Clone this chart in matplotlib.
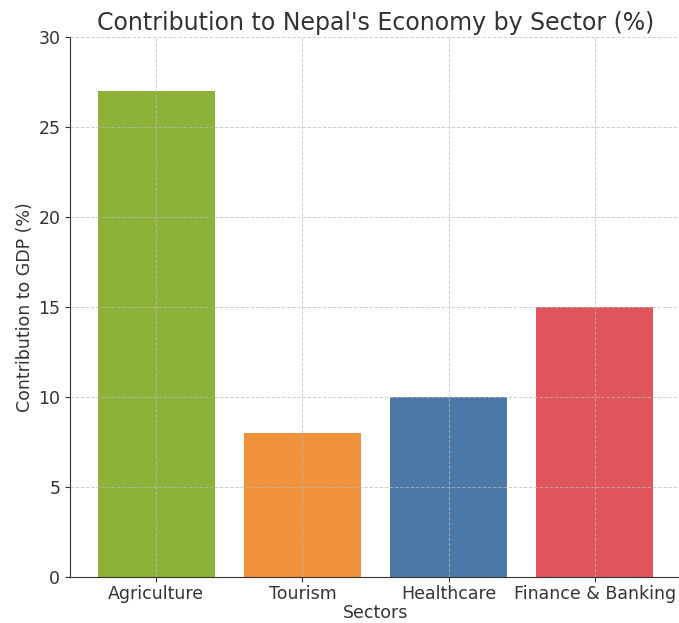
import matplotlib.pyplot as plt

sectors = ["Agriculture", "Tourism", "Healthcare", "Finance & Banking"]
contribution = [27, 8, 10, 15]
colors = ["#8db23a", "#f0913b", "#4c78a7", "#e0555c"]

fig = plt.figure(figsize=(6.79, 6.23), dpi=100)
ax = fig.add_axes([70 / 679, 46 / 623, 611 / 679, 540 / 623])

ax.bar(sectors, contribution, color=colors, width=0.8)

ax.set_title("Contribution to Nepal's Economy by Sector (%)", fontsize=17, color="#333333", pad=5)
ax.set_xlabel("Sectors", fontsize=12.5, color="#333333", labelpad=1)
ax.set_ylabel("Contribution to GDP (%)", fontsize=12.5, color="#333333", labelpad=3)
ax.set_ylim(0, 30)
ax.set_yticks([0, 5, 10, 15, 20, 25, 30])
ax.tick_params(labelsize=12.5, colors="#333333")
ax.tick_params(axis="x", pad=2)

ax.spines["top"].set_visible(False)
ax.spines["right"].set_visible(False)
ax.spines["left"].set_color("#333333")
ax.spines["bottom"].set_color("#333333")

ax.set_axisbelow(False)
ax.grid(True, linestyle="--", color="#bbbbbb", linewidth=0.7, alpha=0.7)

fig.savefig("out.png", dpi=100)
